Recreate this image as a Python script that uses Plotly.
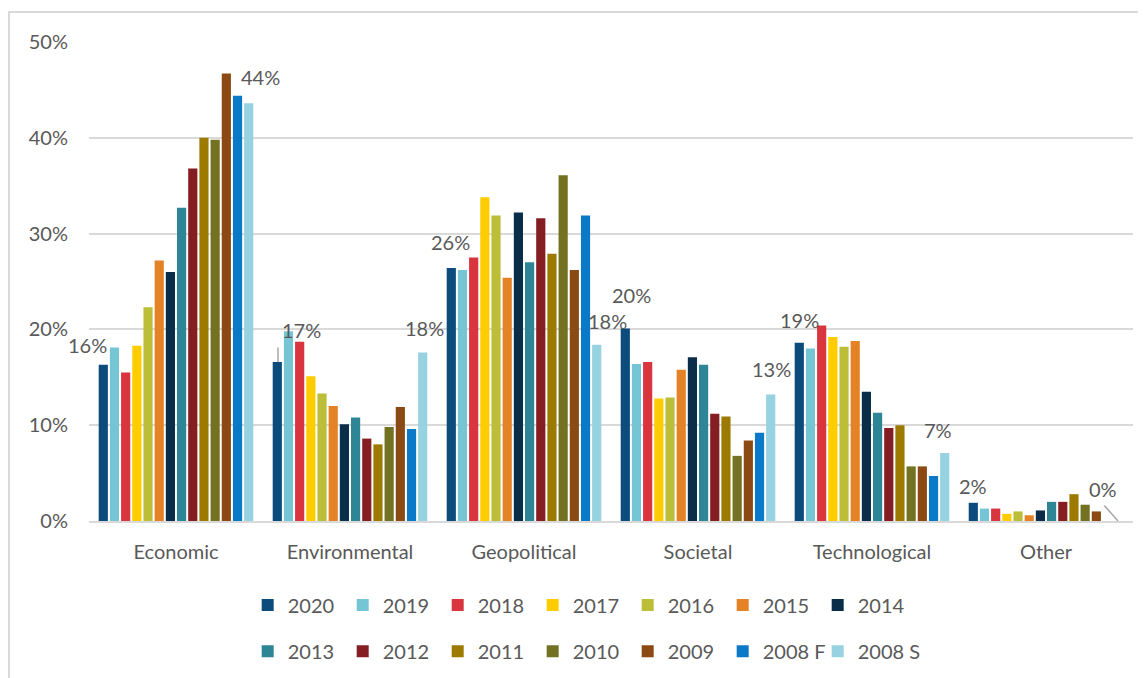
import plotly.graph_objects as go

# ------------------------------------------------------------
# Risk categories by survey year (share of responses, %)
# ------------------------------------------------------------
categories = ["Economic", "Environmental", "Geopolitical", "Societal", "Technological", "Other"]

years = ["2020", "2019", "2018", "2017", "2016", "2015", "2014",
         "2013", "2012", "2011", "2010", "2009", "2008 F", "2008 S"]

colors = ["#0B4C7C", "#76C5D5", "#D8353F", "#FFCC00", "#BDBE38", "#E48226", "#0A2E4A",
          "#2E8595", "#841E22", "#9C7A00", "#737222", "#8B4A14", "#0A7AC8", "#96D2E0"]

v2020  = [16.3, 16.6, 26.4, 20.1, 18.6, 1.9]
v2019  = [18.1, 19.8, 26.2, 16.4, 18.0, 1.3]
v2018  = [15.5, 18.7, 27.5, 16.6, 20.4, 1.3]
v2017  = [18.3, 15.1, 33.8, 12.8, 19.2, 0.75]
v2016  = [22.3, 13.3, 31.9, 12.9, 18.2, 1.0]
v2015  = [27.2, 12.0, 25.4, 15.8, 18.8, 0.6]
v2014  = [26.0, 10.1, 32.2, 17.1, 13.5, 1.1]
v2013  = [32.7, 10.8, 27.0, 16.3, 11.3, 2.0]
v2012  = [36.8, 8.6, 31.6, 11.2, 9.7, 2.0]
v2011  = [40.0, 8.0, 27.9, 10.9, 10.0, 2.8]
v2010  = [39.8, 9.8, 36.1, 6.8, 5.7, 1.7]
v2009  = [46.7, 11.9, 26.2, 8.4, 5.7, 1.0]
v2008f = [44.4, 9.6, 31.9, 9.2, 4.7, 0.0]
v2008s = [43.6, 17.6, 18.4, 13.2, 7.1, 0.0]

series = [v2020, v2019, v2018, v2017, v2016, v2015, v2014,
          v2013, v2012, v2011, v2010, v2009, v2008f, v2008s]

# label offsets (px) for the first and last series, per category
first_shift = [(-89, 20), (-49, 32), (-74, 26), (-67, 33), (-73, 23), (-73, 17)]
last_shift  = [(84, 26), (74, 24), (83, 24), (73, 26), (66, 23), (57, 32)]

FONT = "Lato, 'Open Sans', sans-serif"
GREY = "#595959"
GRID = "#d9d9d9"

fig = go.Figure()

for i, (year, vals, col) in enumerate(zip(years, series, colors)):
    fig.add_trace(go.Bar(
        x = categories,
        y = vals,
        name = year,
        marker_color = col,
        marker_line_width = 0,
        legend = "legend" if i < 7 else "legend2",
        hovertemplate = "%{x} " + year + ": %{y}%<extra></extra>"
    ))

# blank entry so the last legend text is not clipped
fig.add_trace(go.Scatter(
    x = [None], y = [None], mode = "markers", name = "\u00a0",
    marker = dict(color="rgba(0,0,0,0)"), legend = "legend2", hoverinfo = "skip"
))

# data labels on 2020 and 2008 S series
for cat, val, (dx, dy) in zip(categories, v2020, first_shift):
    fig.add_annotation(x=cat, y=val, text=f"{round(val)}%", showarrow=False,
                       xshift=dx, yshift=dy, font=dict(size=20, color=GREY, family=FONT))
for cat, val, (dx, dy) in zip(categories, v2008s, last_shift):
    fig.add_annotation(x=cat, y=val, text=f"{round(val)}%", showarrow=False,
                       xshift=dx, yshift=dy, font=dict(size=20, color=GREY, family=FONT))

# leader lines
fig.add_annotation(x=categories[1], y=v2020[1], text="", showarrow=True, xshift=-72,
                   ax=0, ay=-16, arrowhead=0, arrowwidth=1.5, arrowcolor="#a6a6a6")
fig.add_annotation(x=categories[5], y=v2008s[5], text="", showarrow=True, xshift=72,
                   ax=-15, ay=-17, arrowhead=0, arrowwidth=1.5, arrowcolor="#a6a6a6")

# chart frame
fig.add_shape(type="rect", xref="paper", yref="paper",
              x0=-0.0766, x1=1.05, y0=-0.40, y1=1.0626,
              line=dict(color=GRID, width=2), layer="below")

legend_common = dict(
    orientation = "h",
    xref = "paper",
    yref = "container",
    xanchor = "left",
    yanchor = "middle",
    font = dict(size=20, color=GREY, family=FONT),
    entrywidth = 50,
    entrywidthmode = "pixels",
    itemwidth = 30,
    bgcolor = "rgba(0,0,0,0)",
    traceorder = "normal",
)

# the page body adds 8px on the left and top, so the figure is 8px smaller
fig.update_layout(
    width = 1138,
    height = 670,
    margin = dict(l=81, r=13, t=34, b=157),
    barmode = "group",
    bargap = 0.1,
    bargroupgap = 0.18,
    plot_bgcolor = "white",
    paper_bgcolor = "white",
    font = dict(family=FONT, size=20, color=GREY),
    legend = dict(x=0.152, y=0.109, **legend_common),
    legend2 = dict(x=0.152, y=0.040, **legend_common),
    xaxis = dict(
        range = [-0.5, 5.5],
        automargin = False,
        showgrid = False,
        showline = True,
        linecolor = GRID,
        linewidth = 1.5,
        ticks = "",
        ticklabelstandoff = 12,
        tickfont = dict(size=20, color=GREY, family=FONT),
    ),
    yaxis = dict(
        range = [0, 50],
        dtick = 10,
        automargin = False,
        ticksuffix = "%",
        showgrid = True,
        gridcolor = GRID,
        gridwidth = 1.5,
        zeroline = False,
        ticks = "",
        ticklabelstandoff = 20,
        tickfont = dict(size=20, color=GREY, family=FONT),
    ),
)

fig.write_html("out.html")
